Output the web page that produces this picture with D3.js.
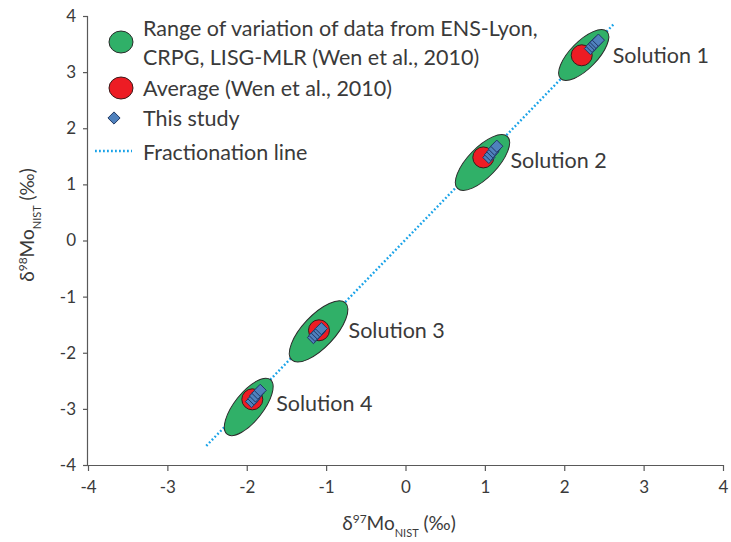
<!DOCTYPE html>
<html>
<head>
<meta charset="utf-8">
<script src="https://cdn.jsdelivr.net/npm/d3@7"></script>
<style>
  html, body { margin: 0; padding: 0; background: #fff; }
  svg { display: block; font-family: Lato, "Open Sans", sans-serif; }
</style>
</head>
<body>
<svg id="chart" width="731" height="542"></svg>
<script>
// ---------- data ----------
const solutions = ["Solution 1", "Solution 2", "Solution 3", "Solution 4"];
// range of variation (ENS-Lyon, CRPG, LISG-MLR): bounding ranges in δ97 and δ98
const rangeX97Min = [1.93, 0.63, -1.46, -2.27];
const rangeX97Max = [2.56, 1.31, -0.73, -1.68];
const rangeY98Min = [2.85, 0.89, -2.17, -3.49];
const rangeY98Max = [3.76, 1.89, -1.07, -2.44];
// average values (Wen et al., 2010)
const avgD97 = [2.22, 0.98, -1.09, -1.93];
const avgD98 = [3.30, 1.48, -1.60, -2.83];
// this study (replicate measurements)
const studyD97 = [2.33, 2.35, 2.38, 2.40, 2.43,  1.05, 1.07, 1.10, 1.12, 1.15,  -1.16, -1.14, -1.11, -1.08, -1.06,  -1.94, -1.91, -1.89, -1.86, -1.83];
const studyD98 = [3.42, 3.46, 3.50, 3.53, 3.57,  1.48, 1.53, 1.58, 1.63, 1.68,  -1.73, -1.69, -1.65, -1.61, -1.57,  -2.87, -2.82, -2.77, -2.72, -2.67];
// fractionation line end points
const lineD97 = [-2.51, 2.62];
const lineD98 = [-3.66, 3.85];
// axis ticks
const xTicks = [-4, -3, -2, -1, 0, 1, 2, 3, 4];
const yTicks = [-4, -3, -2, -1, 0, 1, 2, 3, 4];
const legendLabels = [
  ["Range of variation of data from ENS-Lyon,", "CRPG, LISG-MLR (Wen et al., 2010)"],
  ["Average (Wen et al., 2010)"],
  ["This study"],
  ["Fractionation line"]
];

// ---------- drawing ----------
const W = 731, H = 542;
const m = { left: 88, right: 8, top: 16, bottom: 77 };
const svg = d3.select("#chart");
const x = d3.scaleLinear().domain([-4, 4]).range([m.left, W - m.right]);
const y = d3.scaleLinear().domain([-4, 4]).range([H - m.bottom, m.top]);

const textColor = "#3a3a3a";
const axisColor = "#595959";
const green = "#30b068", red = "#ed1c24", blue = "#4f81bd", lineBlue = "#1aa3e8";
const fontSize = "21.5px";

// axes
const xAxis = svg.append("g").attr("transform", `translate(0,${y(-4)})`)
  .call(d3.axisBottom(x).tickValues(xTicks).tickSize(6).tickPadding(10).tickFormat(d3.format("d")));
const yAxis = svg.append("g").attr("transform", `translate(${x(-4)},0)`)
  .call(d3.axisLeft(y).tickValues(yTicks).tickSize(5).tickPadding(7).tickFormat(d3.format("d")));
[xAxis, yAxis].forEach(g => {
  g.select(".domain").attr("stroke", axisColor).attr("stroke-width", 1.2);
  g.selectAll(".tick line").attr("stroke", axisColor).attr("stroke-width", 1.2);
  g.selectAll(".tick text").attr("fill", textColor).style("font-size", "17px")
    .style("font-family", "Lato, sans-serif")
    .text(d => d < 0 ? "-" + Math.abs(d) : d);
});
xAxis.select(".domain").attr("d", `M${x(-4)},0.5H${x(4)}`);
yAxis.select(".domain").attr("d", `M-0.5,${y(-4)}V${y(4)}`);

// fractionation line
svg.append("line")
  .attr("x1", x(lineD97[0])).attr("y1", y(lineD98[0]))
  .attr("x2", x(lineD97[1])).attr("y2", y(lineD98[1]))
  .attr("stroke", lineBlue).attr("stroke-width", 2.4)
  .attr("stroke-dasharray", "1.8 2.2").attr("stroke-linecap", "butt");

// ellipses (range of variation)
const minorRatio = 0.41;
solutions.forEach((s, i) => {
  const cx = (x(rangeX97Min[i]) + x(rangeX97Max[i])) / 2;
  const cy = (y(rangeY98Min[i]) + y(rangeY98Max[i])) / 2;
  const wx = Math.abs(x(rangeX97Max[i]) - x(rangeX97Min[i])) / 2;
  const wy = Math.abs(y(rangeY98Max[i]) - y(rangeY98Min[i])) / 2;
  const d = Math.sqrt(wx * wx + wy * wy);
  const a = d / Math.sqrt(1 + minorRatio * minorRatio);
  const b = a * minorRatio;
  const ang = -Math.atan2(wy, wx) * 180 / Math.PI;
  svg.append("ellipse")
    .attr("cx", 0).attr("cy", 0).attr("rx", a).attr("ry", b)
    .attr("transform", `translate(${cx},${cy}) rotate(${ang})`)
    .attr("fill", green).attr("stroke", "#2b2b2b").attr("stroke-width", 1);
});

// averages
svg.selectAll("circle.avg").data(avgD97).enter().append("circle")
  .attr("class", "avg")
  .attr("cx", (d) => x(d)).attr("cy", (d, i) => y(avgD98[i])).attr("r", 10.5)
  .attr("fill", red).attr("stroke", "#3a1a1a").attr("stroke-width", 1);

// this study diamonds
const diamond = d3.symbol().type(d3.symbolDiamond2).size(95);
svg.selectAll("path.study").data(studyD97).enter().append("path")
  .attr("class", "study")
  .attr("d", diamond)
  .attr("transform", (d, i) => `translate(${x(d)},${y(studyD98[i])})`)
  .attr("fill", blue).attr("stroke", "#1f3864").attr("stroke-width", 1);

// solution labels
const labelDx = [4, 1, 1, 4];
const labelDy = [8, 6, 7, 4];
solutions.forEach((s, i) => {
  const cx = x(rangeX97Max[i]);
  const cy = (y(rangeY98Min[i]) + y(rangeY98Max[i])) / 2;
  svg.append("text").attr("x", cx + labelDx[i]).attr("y", cy + labelDy[i])
    .attr("fill", textColor).style("font-size", fontSize).text(s);
});

// legend
const lg = svg.append("g");
const lx = 143;
lg.append("ellipse").attr("cx", 121).attr("cy", 42).attr("rx", 12).attr("ry", 11)
  .attr("fill", green).attr("stroke", "#2b2b2b").attr("stroke-width", 1);
lg.append("ellipse").attr("cx", 121).attr("cy", 88).attr("rx", 12).attr("ry", 11)
  .attr("fill", red).attr("stroke", "#3a1a1a").attr("stroke-width", 1);
lg.append("path").attr("d", d3.symbol().type(d3.symbolDiamond2).size(95))
  .attr("transform", "translate(114,118)")
  .attr("fill", blue).attr("stroke", "#1f3864").attr("stroke-width", 1);
lg.append("line").attr("x1", 95).attr("x2", 132).attr("y1", 151).attr("y2", 151)
  .attr("stroke", lineBlue).attr("stroke-width", 2.4).attr("stroke-dasharray", "1.8 2.2");
const legendY = [[36, 65], [96], [126], [160]];
legendLabels.forEach((lines, i) => {
  lines.forEach((t, j) => {
    lg.append("text").attr("x", lx).attr("y", legendY[i][j])
      .attr("fill", textColor).style("font-size", fontSize).text(t);
  });
});

// axis titles
const xt = svg.append("text").attr("x", 399).attr("y", 530).attr("text-anchor", "middle")
  .attr("fill", textColor).style("font-size", "19px");
xt.append("tspan").text("δ");
xt.append("tspan").attr("baseline-shift", "super").style("font-size", "12px").text("97");
xt.append("tspan").text("Mo");
xt.append("tspan").attr("baseline-shift", "sub").style("font-size", "11px").text("NIST");
xt.append("tspan").text(" (‰)");

const yt = svg.append("text").attr("transform", "translate(34,225) rotate(-90)").attr("text-anchor", "middle")
  .attr("fill", textColor).style("font-size", "19px");
yt.append("tspan").text("δ");
yt.append("tspan").attr("baseline-shift", "super").style("font-size", "12px").text("98");
yt.append("tspan").text("Mo");
yt.append("tspan").attr("baseline-shift", "sub").style("font-size", "11px").text("NIST");
yt.append("tspan").text(" (‰)");
</script>
</body>
</html>
